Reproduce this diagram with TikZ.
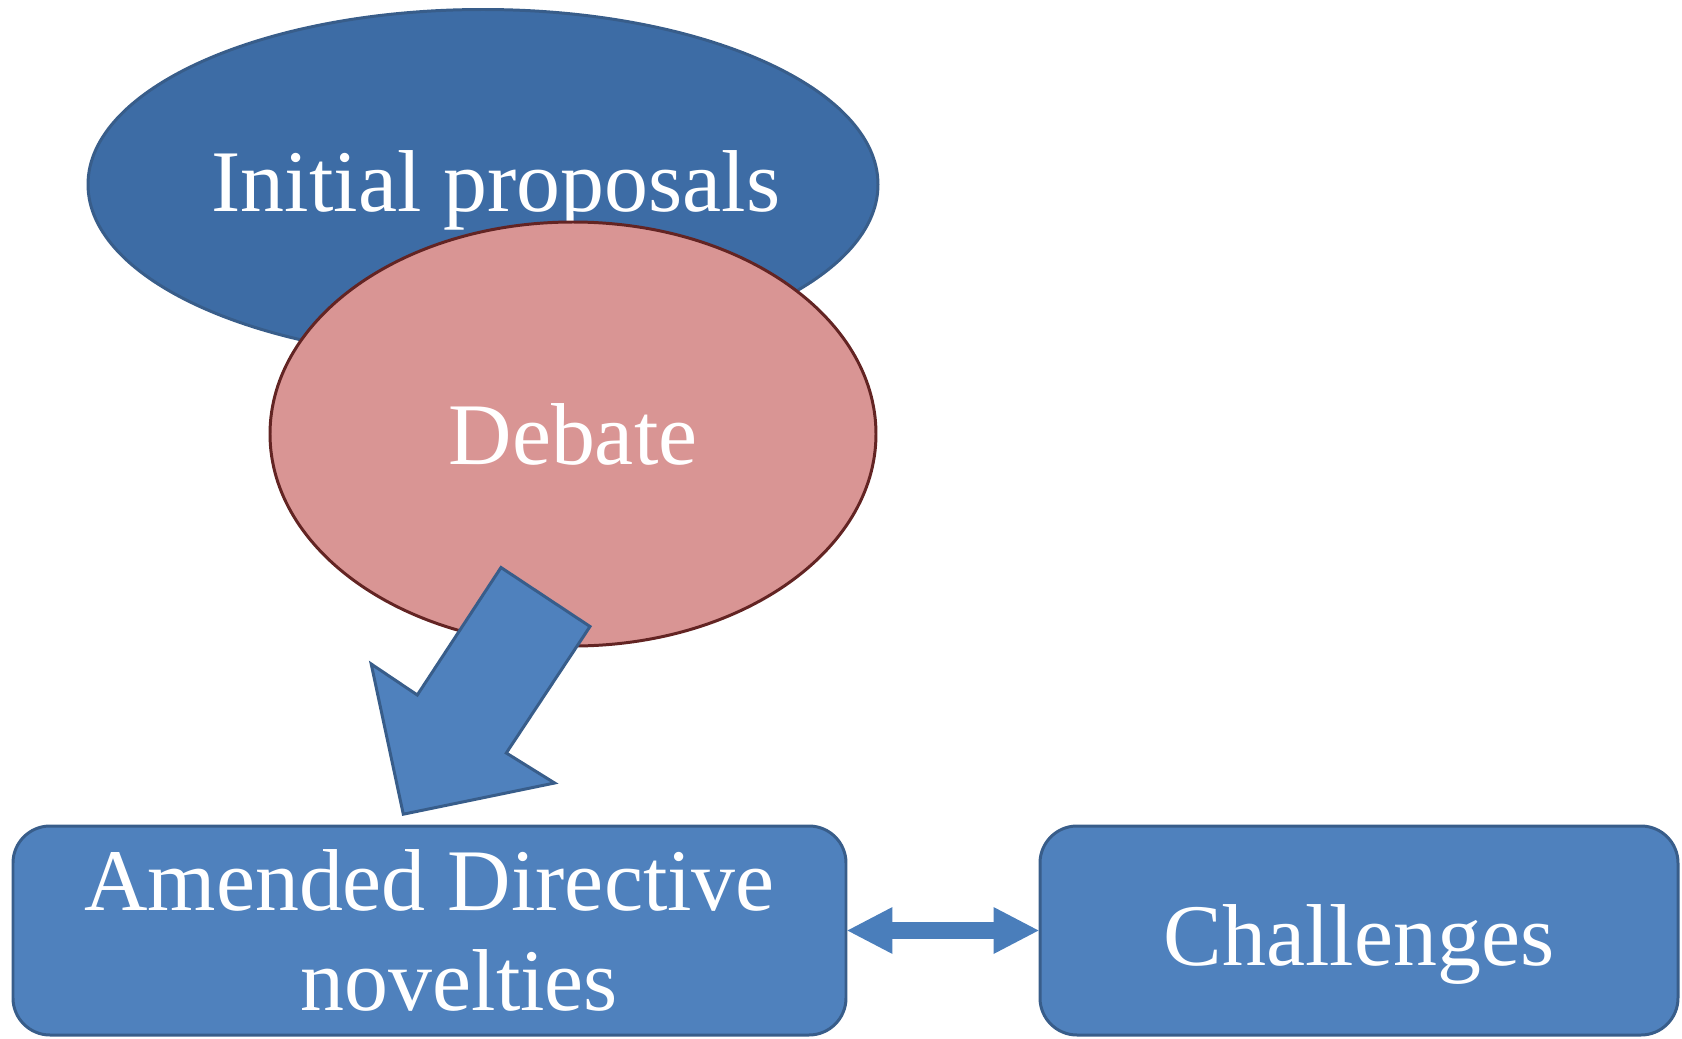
\documentclass[tikz,border=0pt]{standalone}
\usepackage{fontspec}
\setmainfont{Liberation Serif}
\usetikzlibrary{arrows.meta,shapes.geometric}
\definecolor{initcol}{RGB}{61,108,165}
\definecolor{edgecol}{RGB}{56,93,138}
\definecolor{debcol}{RGB}{217,149,148}
\definecolor{debedge}{RGB}{99,36,35}
\definecolor{boxcol}{RGB}{79,129,189}
\definecolor{linkcol}{RGB}{74,126,187}

\begin{document}
\begin{tikzpicture}[
  line width=0.85pt, font=\fontsize{25}{28.5}\selectfont, text=white,
  oval/.style={ellipse,inner sep=0pt},
  stage/.style={rectangle,rounded corners=3.7mm,draw=edgecol,fill=boxcol,
                inner sep=0pt,align=center,minimum height=2.09cm},
  linktip/.tip={Triangle[length=4.5mm,width=4.7mm,line width=0pt]},
]
\useasboundingbox (0,0) rectangle (16.82,10.38);
% --- proposals and debate ---
\node[oval,draw=edgecol,fill=initcol,minimum width=7.9cm,minimum height=3.5cm]
  (init) at (4.83,8.535) {};
\node[anchor=base] (initlbl) at ([xshift=0.13cm,yshift=-0.27cm]init.center) {Initial proposals};
\node[oval,draw=debedge,fill=debcol,minimum width=6.06cm,minimum height=4.24cm]
  (debate) at (5.73,6.04) {Debate};

% --- block arrow down to the amended text ---
\draw[draw=edgecol,fill=boxcol,line join=miter]
  (5.01,4.705) -- (5.90,4.115) -- (5.063,2.85) -- (5.546,2.55)
  -- (4.033,2.238) -- (3.712,3.74) -- (4.173,3.43) -- cycle;

% --- outcome boxes ---
\node[stage,minimum width=8.33cm] (amend) at (4.295,1.075)
  {Amended Directive\\\hspace*{0.6cm}novelties};
\node[stage,minimum width=6.38cm,text height=0.7cm,text depth=0pt] (chall) at (13.59,1.075) {Challenges};
\draw[linkcol,line width=1.72mm,linktip-linktip] (amend) -- (chall);
\end{tikzpicture}
\end{document}
